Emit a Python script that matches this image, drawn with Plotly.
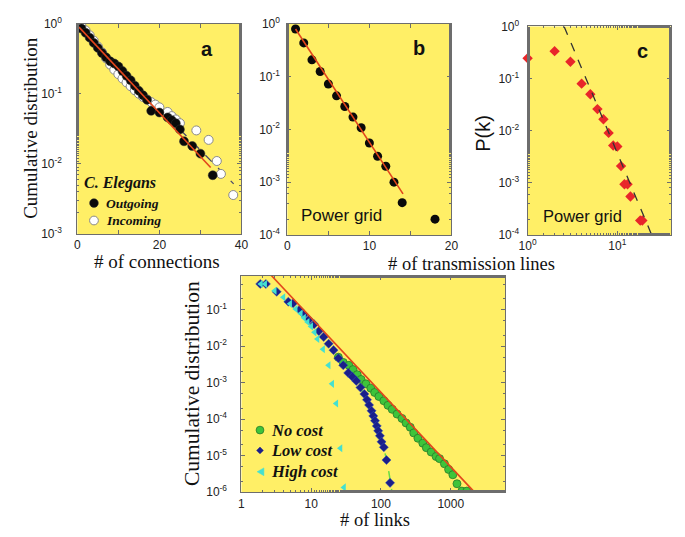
import plotly.graph_objects as go

W, H = 685, 537

# ---------------- data ----------------
# Panel a: C. Elegans cumulative degree distribution
out_k = [1, 2, 3, 4, 5, 6, 7, 8, 9, 10, 11, 12, 13, 14, 15, 16, 17, 18, 20, 22, 23, 24, 25, 26, 28, 30, 33]
out_p = [0.85, 0.74, 0.63, 0.53, 0.45, 0.38, 0.33, 0.29, 0.27, 0.245, 0.21, 0.18, 0.155, 0.13, 0.11, 0.095,
         0.082, 0.057, 0.054, 0.046, 0.042, 0.038, 0.031, 0.021, 0.018, 0.014, 0.0069]
in_k = [1, 2, 3, 4, 5, 6, 7, 8, 9, 10, 11, 12, 13, 14, 15, 16, 17, 18, 19, 20, 22, 23, 24, 25, 29, 32, 34, 35, 38]
in_p = [0.92, 0.80, 0.68, 0.57, 0.47, 0.39, 0.32, 0.26, 0.22, 0.19, 0.165, 0.145, 0.128, 0.112, 0.10, 0.09,
        0.083, 0.076, 0.07, 0.064, 0.055, 0.048, 0.043, 0.038, 0.030, 0.022, 0.011, 0.0072, 0.0036]
fit_a_solid_k = [0.4, 32.5]
fit_a_solid_p = [0.89, 0.0089]
fit_a_dash_k = [0.4, 38.1]
fit_a_dash_p = [0.89, 0.0052]

# Panel b: power grid cumulative distribution
b_k = [1, 2, 3, 4, 5, 6, 7, 8, 9, 10, 11, 12, 13, 14, 18]
b_p = [0.79, 0.43, 0.206, 0.124, 0.072, 0.043, 0.027, 0.017, 0.0107, 0.0055, 0.0031, 0.0020, 0.0010, 0.00041, 0.00020]
fit_b_k = [1, 14.1]
fit_b_p = [0.79, 0.0006]

# Panel c: power grid P(k)
c_k = [1, 2, 3, 4, 5, 6, 7, 8, 9, 10, 11, 12, 13, 14, 18, 19]
c_p = [0.245, 0.336, 0.21, 0.080, 0.050, 0.026, 0.0166, 0.0091, 0.0052, 0.0050, 0.0021, 0.00094, 0.00094,
       0.00055, 0.00019, 0.00019]
fit_c_k = [2.55, 24.2]
fit_c_p = [1.0, 1e-4]

# Panel d: cost models
no_k = [24.5, 28.8, 34.7, 39.8, 45.7, 51.9, 61.0, 71.6, 81.3, 93.3, 110, 126, 145, 170, 200, 229, 263, 295,
        339, 398, 447, 525, 617, 692, 813, 933, 1072, 1230, 1445, 1700]
no_p = [0.0050, 0.0036, 0.0030, 0.00229, 0.00166, 0.00123, 0.00093, 0.00071, 0.00054, 0.00042, 0.00032,
        0.00024, 0.000186, 0.000138, 0.000105, 7.9e-5, 6.0e-5, 4.2e-5, 3.0e-5, 2.2e-5, 1.66e-5, 1.26e-5,
        9.5e-6, 8.3e-6, 6.0e-6, 4.2e-6, 3.0e-6, 1.7e-6, 1.07e-6, 1.07e-6]
low_k = [1.86, 2.24, 3.2, 4.7, 5.5, 6.8, 7.9, 9.3, 11.0, 12.9, 15.1, 17.8, 20.9, 24.5, 28.8, 33.9, 38.9,
         44.3, 50.8, 57.8, 63.1, 67.6, 73.3, 77.6, 82.2, 87.1, 91.2, 96.6, 102, 110, 120, 135]
low_p = [0.51, 0.51, 0.31, 0.166, 0.151, 0.10, 0.074, 0.054, 0.040, 0.026, 0.018, 0.0117, 0.0078, 0.0047,
         0.0030, 0.00186, 0.00145, 0.00112, 0.00074, 0.00049, 0.00034, 0.000245, 0.00017, 0.000123, 9.1e-5,
         6.5e-5, 4.8e-5, 3.5e-5, 2.4e-5, 1.7e-5, 7.6e-6, 1.8e-6]
high_k = [1.9, 2.19, 3.0, 4.0, 5.0, 6.0, 7.1, 7.9, 8.9, 10.0, 11.2, 12.3, 14.8, 17.8, 20.0, 22.9, 26.3, 29.5]
high_p = [0.51, 0.51, 0.33, 0.22, 0.145, 0.105, 0.079, 0.060, 0.046, 0.035, 0.024, 0.0158, 0.0083, 0.0030,
          0.00093, 0.00027, 1.6e-5, 1.35e-6]
fit_d_red_k = [2.57, 2138]
fit_d_red_p = [0.95, 1.05e-6]
fit_d_green_k = [35, 50, 70, 90, 110, 130, 143]
fit_d_green_p = [0.0020, 0.00078, 0.00021, 5.5e-5, 1.7e-5, 3.5e-6, 1.07e-6]

# ---------------- styling ----------------
YELLOW = "#FFEF66"
AXC = "#6d6d6d"
SERIF = "Liberation Serif"
SANS = "Liberation Sans"
RED = "#E2461C"
C_OUT = "#0a0a0a"
C_IN_EDGE = "#8a8a8a"
C_NO = "#3EC43A"
C_NO_EDGE = "#2a7a2a"
C_LOW = "#1B1F8A"
C_HIGH = "#44E0D0"


def px_x(x):
    return x / W


def px_y(y):
    return 1 - y / H


def sup(e):
    return "10<sup>%s</sup>" % e


fig = go.Figure()

# panel a
fig.add_trace(go.Scatter(x=fit_a_dash_k, y=fit_a_dash_p, mode="lines", xaxis="x", yaxis="y",
                         line=dict(color="#4a4a6a", width=1.3, dash="dash"), showlegend=False))
fig.add_trace(go.Scatter(x=in_k, y=in_p, mode="markers", xaxis="x", yaxis="y", showlegend=False,
                         marker=dict(symbol="circle", size=9, color="white", line=dict(color=C_IN_EDGE, width=1))))
fig.add_trace(go.Scatter(x=out_k, y=out_p, mode="markers", xaxis="x", yaxis="y", showlegend=False,
                         marker=dict(symbol="circle", size=9, color=C_OUT, line=dict(color="#333", width=0.5))))
fig.add_trace(go.Scatter(x=fit_a_solid_k, y=fit_a_solid_p, mode="lines", xaxis="x", yaxis="y",
                         line=dict(color=RED, width=1.6), showlegend=False))

# panel b
fig.add_trace(go.Scatter(x=b_k, y=b_p, mode="markers", xaxis="x2", yaxis="y2", showlegend=False,
                         marker=dict(symbol="circle", size=9, color=C_OUT)))
fig.add_trace(go.Scatter(x=fit_b_k, y=fit_b_p, mode="lines", xaxis="x2", yaxis="y2", showlegend=False,
                         line=dict(color=RED, width=1.6)))

# panel c
fig.add_trace(go.Scatter(x=c_k, y=c_p, mode="markers", xaxis="x3", yaxis="y3", showlegend=False,
                         cliponaxis=False, marker=dict(symbol="diamond", size=8, color="#E8262A")))
fig.add_trace(go.Scatter(x=fit_c_k, y=fit_c_p, mode="lines", xaxis="x3", yaxis="y3", showlegend=False,
                         line=dict(color="#333", width=1.3, dash="dash")))

# panel d
fig.add_trace(go.Scatter(x=no_k, y=no_p, mode="markers", xaxis="x4", yaxis="y4", showlegend=False,
                         marker=dict(symbol="circle", size=8, color=C_NO, line=dict(color=C_NO_EDGE, width=0.8))))
fig.add_trace(go.Scatter(x=fit_d_green_k, y=fit_d_green_p, mode="lines", xaxis="x4", yaxis="y4", showlegend=False,
                         line=dict(color="#66DD44", width=1.5, dash="dash")))
fig.add_trace(go.Scatter(x=low_k, y=low_p, mode="markers", xaxis="x4", yaxis="y4", showlegend=False,
                         marker=dict(symbol="diamond", size=7, color=C_LOW, line=dict(color="#3050c0", width=0.5))))
fig.add_trace(go.Scatter(x=high_k, y=high_p, mode="markers", xaxis="x4", yaxis="y4", showlegend=False,
                         marker=dict(symbol="triangle-left", size=7, color=C_HIGH)))
fig.add_trace(go.Scatter(x=fit_d_red_k, y=fit_d_red_p, mode="lines", xaxis="x4", yaxis="y4", showlegend=False,
                         line=dict(color=RED, width=1.6)))

tickfont = dict(family=SANS, size=12, color="#222")
common = dict(showline=True, linecolor=AXC, linewidth=1, mirror="ticks", ticks="inside", ticklen=4,
              tickcolor=AXC, showgrid=False, zeroline=False, tickfont=tickfont)
minor_log = dict(ticks="inside", ticklen=2, tickcolor=AXC, showgrid=False)
minor_lin = dict(ticks="inside", ticklen=4, tickcolor=AXC, showgrid=False)

fig.update_layout(
    width=W, height=H, margin=dict(l=0, r=0, t=0, b=0),
    paper_bgcolor="white", plot_bgcolor=YELLOW, showlegend=False,
    xaxis=dict(domain=[px_x(70), px_x(238)], range=[0, 40], tickvals=[0, 20, 40], ticktext=["0", "20", "40"],
               anchor="y", minor=dict(dtick=10, tick0=0, **minor_lin), **common),
    yaxis=dict(domain=[px_y(232), px_y(15)], type="log", range=[-3, 0], tickvals=[1, 0.1, 0.01, 0.001],
               ticktext=[sup(0), sup(-1), sup(-2), sup(-3)], anchor="x", minor=minor_log,
               ticklabelstandoff=12, **common),
    xaxis2=dict(domain=[px_x(285), px_x(453)], range=[0, 20], tickvals=[0, 10, 20], ticktext=["0", "10", "20"],
                anchor="y2", minor=dict(dtick=5, tick0=0, **minor_lin), **common),
    yaxis2=dict(domain=[px_y(233), px_y(15)], type="log", range=[-4, 0], tickvals=[1, 0.1, 0.01, 0.001, 0.0001],
                ticktext=[sup(0), sup(-1), sup(-2), sup(-3), sup(-4)], anchor="x2", minor=minor_log,
                ticklabelstandoff=4, **common),
    xaxis3=dict(domain=[px_x(531), px_x(678)], type="log", range=[0, 1.6], tickvals=[1, 10],
                ticktext=[sup(0), sup(1)], anchor="y3", minor=minor_log, **common),
    yaxis3=dict(domain=[px_y(233), px_y(18)], type="log", range=[-4, 0], tickvals=[1, 0.1, 0.01, 0.001, 0.0001],
                ticktext=[sup(0), sup(-1), sup(-2), sup(-3), sup(-4)], anchor="x3", minor=minor_log,
                ticklabelstandoff=5, **common),
    xaxis4=dict(domain=[px_x(238), px_x(508)], type="log", range=[0, 3.78], tickvals=[1, 10, 100, 1000],
                ticktext=["1", "10", "100", "1000"], anchor="y4", minor=minor_log, **common),
    yaxis4=dict(domain=[px_y(498), px_y(275)], type="log", range=[-6, -0.07],
                tickvals=[0.1, 0.01, 0.001, 1e-4, 1e-5, 1e-6],
                ticktext=[sup(-1), sup(-2), sup(-3), sup(-4), sup(-5), sup(-6)], anchor="x4", minor=minor_log,
                ticklabelstandoff=11, **common),
)

ann = []


def text(x, y, s, size, family=SERIF, angle=0, xanchor="center", color="#111", pad=1):
    ann.append(dict(x=px_x(x), y=px_y(y), xref="paper", yref="paper", text=s, showarrow=False,
                    textangle=angle, xanchor=xanchor, yanchor="middle", borderpad=pad,
                    font=dict(family=family, size=size, color=color)))


text(22, 122, "Cumulative distribution", 19, angle=-90)
text(152, 260, "# of connections", 19)
text(474, 263, "# of transmission lines", 18.5)
text(486, 128, "P(k)", 20, family=SANS, angle=-90)
text(188, 386, "Cumulative distribution", 21.5, angle=-90)
text(375, 527, "# of links", 18.5, pad=0)
text(203, 41, "<b>a</b>", 20, family=SANS)
text(420, 40, "<b>b</b>", 20, family=SANS)
text(649, 43, "<b>c</b>", 20, family=SANS)
text(340, 213, "Power grid", 17, family=SANS)
text(587, 213, "Power grid", 16.5, family=SANS)

# legend of panel a
text(75, 179, "<b><i>C. Elegans</i></b>", 16, xanchor="left")
text(97, 200, "<b><i>Outgoing</i></b>", 13.5, xanchor="left")
text(97, 218, "<b><i>Incoming</i></b>", 13.5, xanchor="left")
# legend of panel d
text(266, 434, "<b><i>No cost</i></b>", 16.5, xanchor="left")
text(266, 455, "<b><i>Low cost</i></b>", 16.5, xanchor="left")
text(266, 477, "<b><i>High cost</i></b>", 16.5, xanchor="left")
fig.update_layout(annotations=ann)

# legend keys (paper-space symbols)
shapes = []


def circle(cx, cy, r, fill, edge, lw):
    shapes.append(dict(type="circle", xref="paper", yref="paper",
                       x0=px_x(cx - r), x1=px_x(cx + r), y0=px_y(cy + r), y1=px_y(cy - r),
                       fillcolor=fill, line=dict(color=edge, width=lw)))


def poly(pts, fill):
    path = "M " + " L ".join("%f,%f" % (px_x(x), px_y(y)) for x, y in pts) + " Z"
    shapes.append(dict(type="path", xref="paper", yref="paper", path=path, fillcolor=fill,
                       line=dict(color=fill, width=0.5)))


circle(87, 200, 4.5, C_OUT, "#333", 0.5)
circle(87, 218, 4.5, "white", C_IN_EDGE, 1)
circle(257, 434, 4, C_NO, C_NO_EDGE, 0.8)
poly([(257, 451.5), (260.5, 455), (257, 458.5), (253.5, 455)], C_LOW)
poly([(254, 477), (261, 473), (261, 481)], C_HIGH)
fig.update_layout(shapes=shapes)

fig.write_html("out.html", config={"displayModeBar": False},
               post_script="document.body.style.margin='0px';document.body.style.overflow='hidden';")
